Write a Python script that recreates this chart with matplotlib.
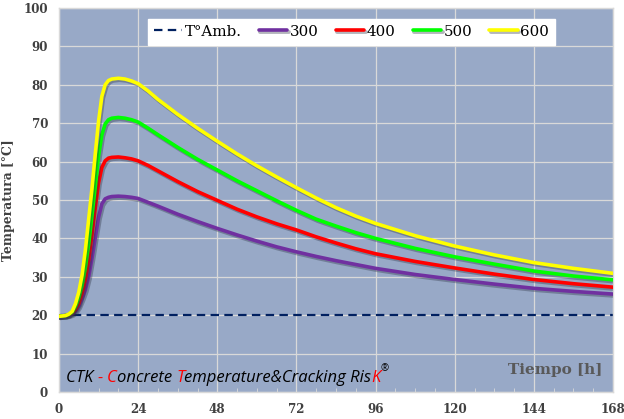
import matplotlib
matplotlib.use("Agg")
import matplotlib.pyplot as plt
import matplotlib.patheffects as pe
from matplotlib.ticker import MultipleLocator

# ---- data ----------------------------------------------------------------
hours = [0, 2, 3, 4, 5, 6, 7, 8, 9, 10, 11, 12, 13, 14, 15, 16, 18, 20, 22,
         24, 27, 30, 36, 42, 48, 54, 60, 66, 72, 78, 84, 90, 96, 108, 120,
         132, 144, 156, 168]

t_300 = [19.7, 19.8, 20.0, 20.3, 21.0, 22.3, 24.3, 26.6, 30.0, 34.8, 40.2,
         45.5, 49.0, 50.3, 50.7, 50.9, 51.0, 50.9, 50.7, 50.4, 49.4, 48.4,
         46.3, 44.4, 42.6, 40.9, 39.3, 37.8, 36.5, 35.3, 34.2, 33.2, 32.2,
         30.6, 29.3, 28.1, 27.0, 26.2, 25.5]
t_400 = [19.7, 19.9, 20.1, 20.6, 21.5, 23.0, 25.8, 29.5, 34.5, 41.0, 48.0,
         54.5, 58.5, 60.2, 60.9, 61.1, 61.2, 61.0, 60.7, 60.2, 59.0, 57.6,
         54.8, 52.2, 49.9, 47.6, 45.6, 43.8, 42.2, 40.4, 38.8, 37.3, 36.0,
         34.0, 32.3, 30.7, 29.3, 28.2, 27.3]
t_500 = [19.7, 19.9, 20.2, 20.8, 22.3, 24.5, 27.8, 32.5, 38.5, 46.0, 53.5,
         61.5, 67.0, 69.8, 70.9, 71.3, 71.5, 71.3, 70.9, 70.3, 68.7, 67.0,
         63.7, 60.6, 57.8, 55.0, 52.4, 49.8, 47.3, 45.0, 43.2, 41.5, 40.0,
         37.4, 35.2, 33.3, 31.5, 30.2, 29.2]
t_600 = [19.7, 19.9, 20.3, 21.0, 23.0, 26.0, 30.5, 37.0, 45.0, 53.0, 62.0,
         70.5, 77.0, 80.0, 81.1, 81.5, 81.7, 81.5, 81.0, 80.3, 78.4, 76.2,
         72.3, 68.7, 65.3, 62.0, 58.9, 56.0, 53.2, 50.5, 48.0, 45.8, 43.9,
         40.7, 38.0, 35.7, 33.7, 32.2, 30.9]

amb_hours = [0, 168]
amb_temp = [20, 20]

series = [("300", t_300, "#7030A0"),
          ("400", t_400, "#FF0000"),
          ("500", t_500, "#00FF00"),
          ("600", t_600, "#FFFF00")]

# ---- figure ---------------------------------------------------------------
fig = plt.figure(figsize=(6.24, 4.19), dpi=100)
ax = fig.add_axes([59 / 624, 27 / 419, 554 / 624, 384 / 419])
ax.set_facecolor("#98A9C7")

ax.grid(True, color="#D9D9D9", linewidth=0.9, zorder=0)
ax.set_axisbelow(True)

amb, = ax.plot(amb_hours, amb_temp, color="#002060", linewidth=1.6,
               linestyle=(0, (3.8, 2.4)), label="T\u00b0Amb.", zorder=2)

# soft drop shadow under each curve
shadow = [pe.SimpleLineShadow(offset=(1.0, -1.3), shadow_color="#2a2f40",
                              alpha=0.35, linewidth=2.8),
          pe.Normal()]
handles = [amb]
for name, temps, col in series:
    ln, = ax.plot(hours, temps, color=col, linewidth=2.6, label=name,
                  path_effects=shadow, zorder=3, solid_capstyle="round")
    handles.append(ln)

ax.set_xlim(0, 168)
ax.set_ylim(0, 100)
ax.xaxis.set_major_locator(MultipleLocator(24))
ax.xaxis.set_minor_locator(MultipleLocator(6))
ax.yaxis.set_major_locator(MultipleLocator(10))

for s in ax.spines.values():
    s.set_color("#D9D9D9")
    s.set_linewidth(1.0)

ax.tick_params(axis="x", which="both", direction="in", color="#D9D9D9",
               pad=8, labelcolor="#404040")
ax.tick_params(axis="x", which="major", length=0)
ax.tick_params(axis="x", which="minor", length=3)
ax.tick_params(axis="y", length=0, pad=8, labelcolor="#404040")
for lab in ax.get_xticklabels() + ax.get_yticklabels():
    lab.set_fontfamily("DejaVu Serif")
    lab.set_fontweight("bold")
    lab.set_fontsize(8.6)

ax.set_ylabel("Temperatura [\u00b0C]", family="DejaVu Serif", weight="bold",
              size=8.9, color="#404040")
ax.yaxis.set_label_coords(-0.079, 0.5)

ax.text(0.98, 0.058, "Tiempo [h]", transform=ax.transAxes, ha="right",
        va="center", family="DejaVu Serif", weight="bold", size=11,
        color="#595959")

leg = ax.legend(handles=handles, loc="upper center", ncol=5,
                bbox_to_anchor=(0.528, 0.992), frameon=True, fancybox=False,
                framealpha=1.0, edgecolor="white", facecolor="white",
                prop=dict(family="DejaVu Serif", size=10.8),
                handlelength=1.9, handletextpad=0.15, columnspacing=1.15,
                borderpad=0.4)

# ---- watermark with coloured initials -------------------------------------
pieces = [("CTK ", "black"), ("-", "red"), (" ", "black"), ("C", "red"),
          ("oncrete ", "black"), ("T", "red"),
          ("emperature&Cracking Ris", "black"), ("K", "red")]
wm_font = dict(family="Open Sans", style="italic", size=12)
prev = ax.text(0.012, 0.025, pieces[0][0], transform=ax.transAxes,
               ha="left", va="baseline", color=pieces[0][1], **wm_font)
for txt, col in pieces[1:]:
    prev = ax.annotate(txt, xy=(1, 0), xycoords=prev, ha="left",
                       va="bottom", color=col, **wm_font)
ax.annotate("\u00ae", xy=(1, 0.75), xycoords=prev, ha="left", va="bottom",
            color="black", family="Open Sans", style="italic", size=7)

fig.savefig("out.png", dpi=100, facecolor="white")
